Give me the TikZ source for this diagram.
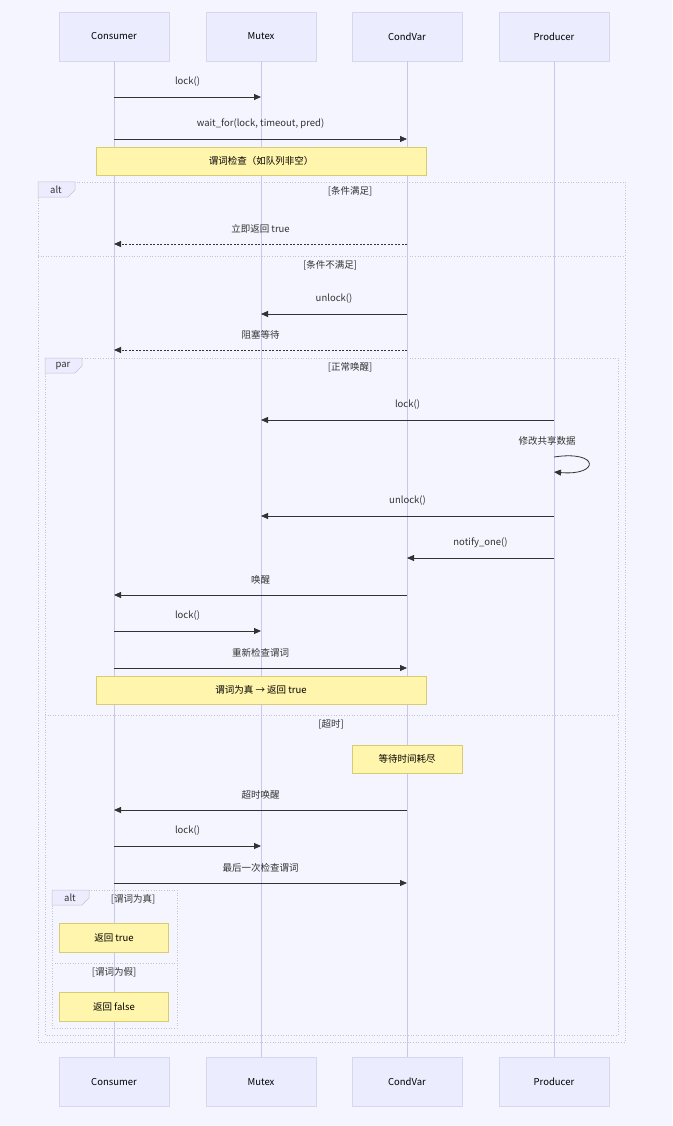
\documentclass[tikz,border=0pt]{standalone}
\usepackage{fontspec}
\setmainfont{Noto Sans CJK SC}
\usetikzlibrary{arrows.meta}
\definecolor{actfill}{HTML}{ECECFF}
\definecolor{actline}{HTML}{D6D6F0}
\definecolor{lifeline}{HTML}{C8C8EC}
\definecolor{notefill}{HTML}{FFF5AD}
\definecolor{noteline}{HTML}{D8CC70}
\definecolor{frameline}{HTML}{C4C4CC}
\definecolor{msgline}{HTML}{333333}
\tikzset{
  actor/.style={draw=actline, fill=actfill, minimum width=110pt, minimum height=49pt, inner sep=0pt},
  note/.style={draw=noteline, fill=notefill, inner sep=0pt},
  msg/.style={draw=msgline, line width=0.8pt, -{Triangle[length=7pt,width=6pt]}},
  reply/.style={msg, dash pattern=on 2pt off 1.5pt},
  frame/.style={draw=frameline, dotted, line width=0.6pt},
  lbl/.style={text=black!80, inner sep=0pt},
  tab/.style={draw=frameline, fill=actfill, line width=0.5pt}
}
\newcommand{\msgline}[5]{%
  \draw[#5] (#1 |- 0,#3) -- (#2 |- 0,#3);
  \node[lbl] at ($(#1 |- 0,#3)!0.5!(#2 |- 0,#3) + (0,-15)$) {#4};}
\usetikzlibrary{calc}
\begin{document}
\begin{tikzpicture}[x=1pt, y=-1pt, font=\fontsize{9.5}{11}\selectfont]
		\fill[white!96!blue] (0,0) rectangle (672,1126);
		\useasboundingbox (0,0) rectangle (672,1126);

		% участники
		\foreach \nm/\lab/\x in {C/Consumer/114, M/Mutex/261, V/CondVar/407, P/Producer/554} {
			\node[actor] (\nm top) at (\x,36.5) {\lab};
			\node[actor] (\nm bot) at (\x,1082) {\lab};
			\draw[lifeline, line width=0.8pt] (\nm top) -- (\nm bot);
		}

		% внешний alt
		\draw[frame] (38,182) rectangle (625,1042);
		\draw[tab] (38,182) -- (75,182) -- (75,190) -- (68,197) -- (38,197) -- cycle;
		\node[lbl] at (56,190) {alt};
		\node[lbl] at (350,191) {[条件满足]};
		\draw[frame] (38,256) -- (625,256);
		\node[lbl] at (330,265) {[条件不满足]};

		% par
		\draw[frame] (45,358) rectangle (618,1035);
		\draw[tab] (45,358) -- (82,358) -- (82,366) -- (75,373) -- (45,373) -- cycle;
		\node[lbl] at (63,366) {par};
		\node[lbl] at (350,367) {[正常唤醒]};
		\draw[frame] (45,715) -- (618,715);
		\node[lbl] at (331,724) {[超时]};

		% внутренний alt
		\draw[frame] (52,890) rectangle (177,1028);
		\draw[tab] (52,890) -- (89,890) -- (89,898) -- (82,905) -- (52,905) -- cycle;
		\node[lbl] at (70,898) {alt};
		\node[lbl] at (133,899) {[谓词为真]};
		\draw[frame] (52,963) -- (177,963);
		\node[lbl] at (114,972) {[谓词为假]};

		% сообщения
		\msgline{Ctop}{Mtop}{97}{lock()}{msg}
		\msgline{Ctop}{Vtop}{139}{wait\_for(lock, timeout, pred)}{msg}
		\node[note, minimum width=330pt, minimum height=28pt] (n1) at (261,161) {谓词检查（如队列非空）};
		\msgline{Vtop}{Ctop}{244}{立即返回 true}{reply}
		\msgline{Vtop}{Mtop}{314}{unlock()}{msg}
		\msgline{Vtop}{Ctop}{350}{阻塞等待}{reply}
		\msgline{Ptop}{Mtop}{420}{lock()}{msg}
		\node[lbl] (selfl) at (547,441) {修改共享数据};
		\draw[msg] (Ptop |- 0,457) .. controls (600,450) and (600,476) .. (Ptop |- 0,472);
		\msgline{Ptop}{Mtop}{516}{unlock()}{msg}
		\msgline{Ptop}{Vtop}{558}{notify\_one()}{msg}
		\msgline{Vtop}{Ctop}{595}{唤醒}{msg}
		\msgline{Ctop}{Mtop}{631}{lock()}{msg}
		\msgline{Ctop}{Vtop}{668}{重新检查谓词}{msg}
		\node[note, minimum width=330pt, minimum height=28pt] (n2) at (261,690) {谓词为真 → 返回 true};
		\node[note, minimum width=110pt, minimum height=28pt] (n3) at (407,759) {等待时间耗尽};
		\msgline{Vtop}{Ctop}{810}{超时唤醒}{msg}
		\msgline{Ctop}{Mtop}{846}{lock()}{msg}
		\msgline{Ctop}{Vtop}{883}{最后一次检查谓词}{msg}
		\node[note, minimum width=109pt, minimum height=29pt] (n4) at (114,937.5) {返回 true};
		\node[note, minimum width=109pt, minimum height=29pt] (n5) at (114,1006.5) {返回 false};
	\end{tikzpicture}
\end{document}
